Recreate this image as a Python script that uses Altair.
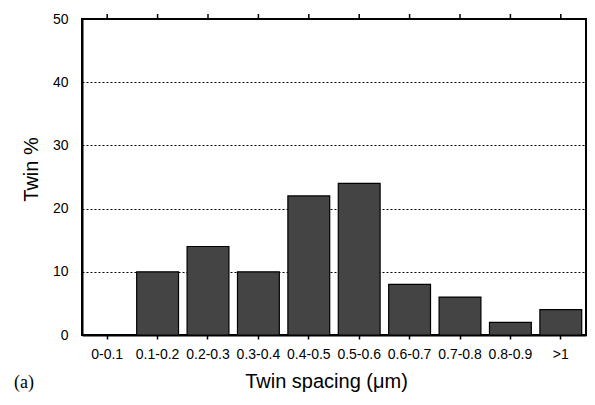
import altair as alt
import pandas as pd

categories = ["0-0.1", "0.1-0.2", "0.2-0.3", "0.3-0.4", "0.4-0.5",
              "0.5-0.6", "0.6-0.7", "0.7-0.8", "0.8-0.9", ">1"]
twin_percent = [0, 10, 14, 10, 22, 24, 8, 6, 2, 4]
y_tick_values = [0, 10, 20, 30, 40, 50]
panel_label = ["(a)"]

df = pd.DataFrame({"spacing": categories, "pct": twin_percent})
label_df = pd.DataFrame({"label": panel_label})

SANS = "Liberation Sans, Arial, Helvetica, sans-serif"

x_scale = alt.Scale(paddingInner=0.17, paddingOuter=0.085)

bars = alt.Chart(df).mark_bar(
    fill="#444444", stroke="black", strokeWidth=1.2
).encode(
    x=alt.X("spacing:N", sort=categories, scale=x_scale,
            axis=alt.Axis(title="Twin spacing (μm)", labelAngle=0,
                          labelFont=SANS, labelFontSize=14, labelColor="black",
                          labelPadding=8, ticks=True, tickSize=4,
                          tickColor="black", tickWidth=1.5,
                          domain=True, domainColor="black", domainWidth=2,
                          titleFont=SANS, titleFontSize=20, titleFontWeight="normal",
                          titleColor="black", titleX=244, titleY=52,
                          titleBaseline="alphabetic", grid=False)),
    y=alt.Y("pct:Q", scale=alt.Scale(domain=[0, 50], nice=False),
            axis=alt.Axis(title="Twin %", values=y_tick_values,
                          labelFont=SANS, labelFontSize=14, labelColor="black",
                          labelPadding=14, ticks=False, tickSize=0,
                          domain=True, domainColor="black", domainWidth=2,
                          grid=True, gridColor="black", gridDash=[2, 2],
                          gridWidth=1, gridOpacity=1,
                          titleFont=SANS, titleFontSize=20, titleFontWeight="normal",
                          titleColor="black", titleX=-45, titleY=150,
                          titleAngle=270, titleBaseline="alphabetic")),
)

top_ticks = alt.Chart(df).mark_rule(color="black", strokeWidth=1.5).encode(
    x=alt.X("spacing:N", sort=categories, scale=x_scale),
    y=alt.value(0),
    y2=alt.value(-5),
)

right_edge = alt.Chart(label_df).mark_rule(color="black", strokeWidth=2).encode(
    x=alt.value(504),
    y=alt.value(0),
    y2=alt.value(316),
)

label = alt.Chart(label_df).mark_text(
    font="Liberation Serif, Times New Roman, serif", fontSize=18,
    color="black", align="center", baseline="alphabetic"
).encode(
    x=alt.value(-58),
    y=alt.value(369),
    text="label:N",
)

chart = alt.layer(bars, top_ticks, right_edge, label).properties(
    width=504,
    height=316,
    autosize=alt.AutoSizeParams(type="none"),
    padding={"left": 74, "top": 11, "right": 1, "bottom": 57},
).configure_view(stroke="black", strokeWidth=2)

chart.save("out.html", embed_options={"renderer": "svg", "actions": False})
